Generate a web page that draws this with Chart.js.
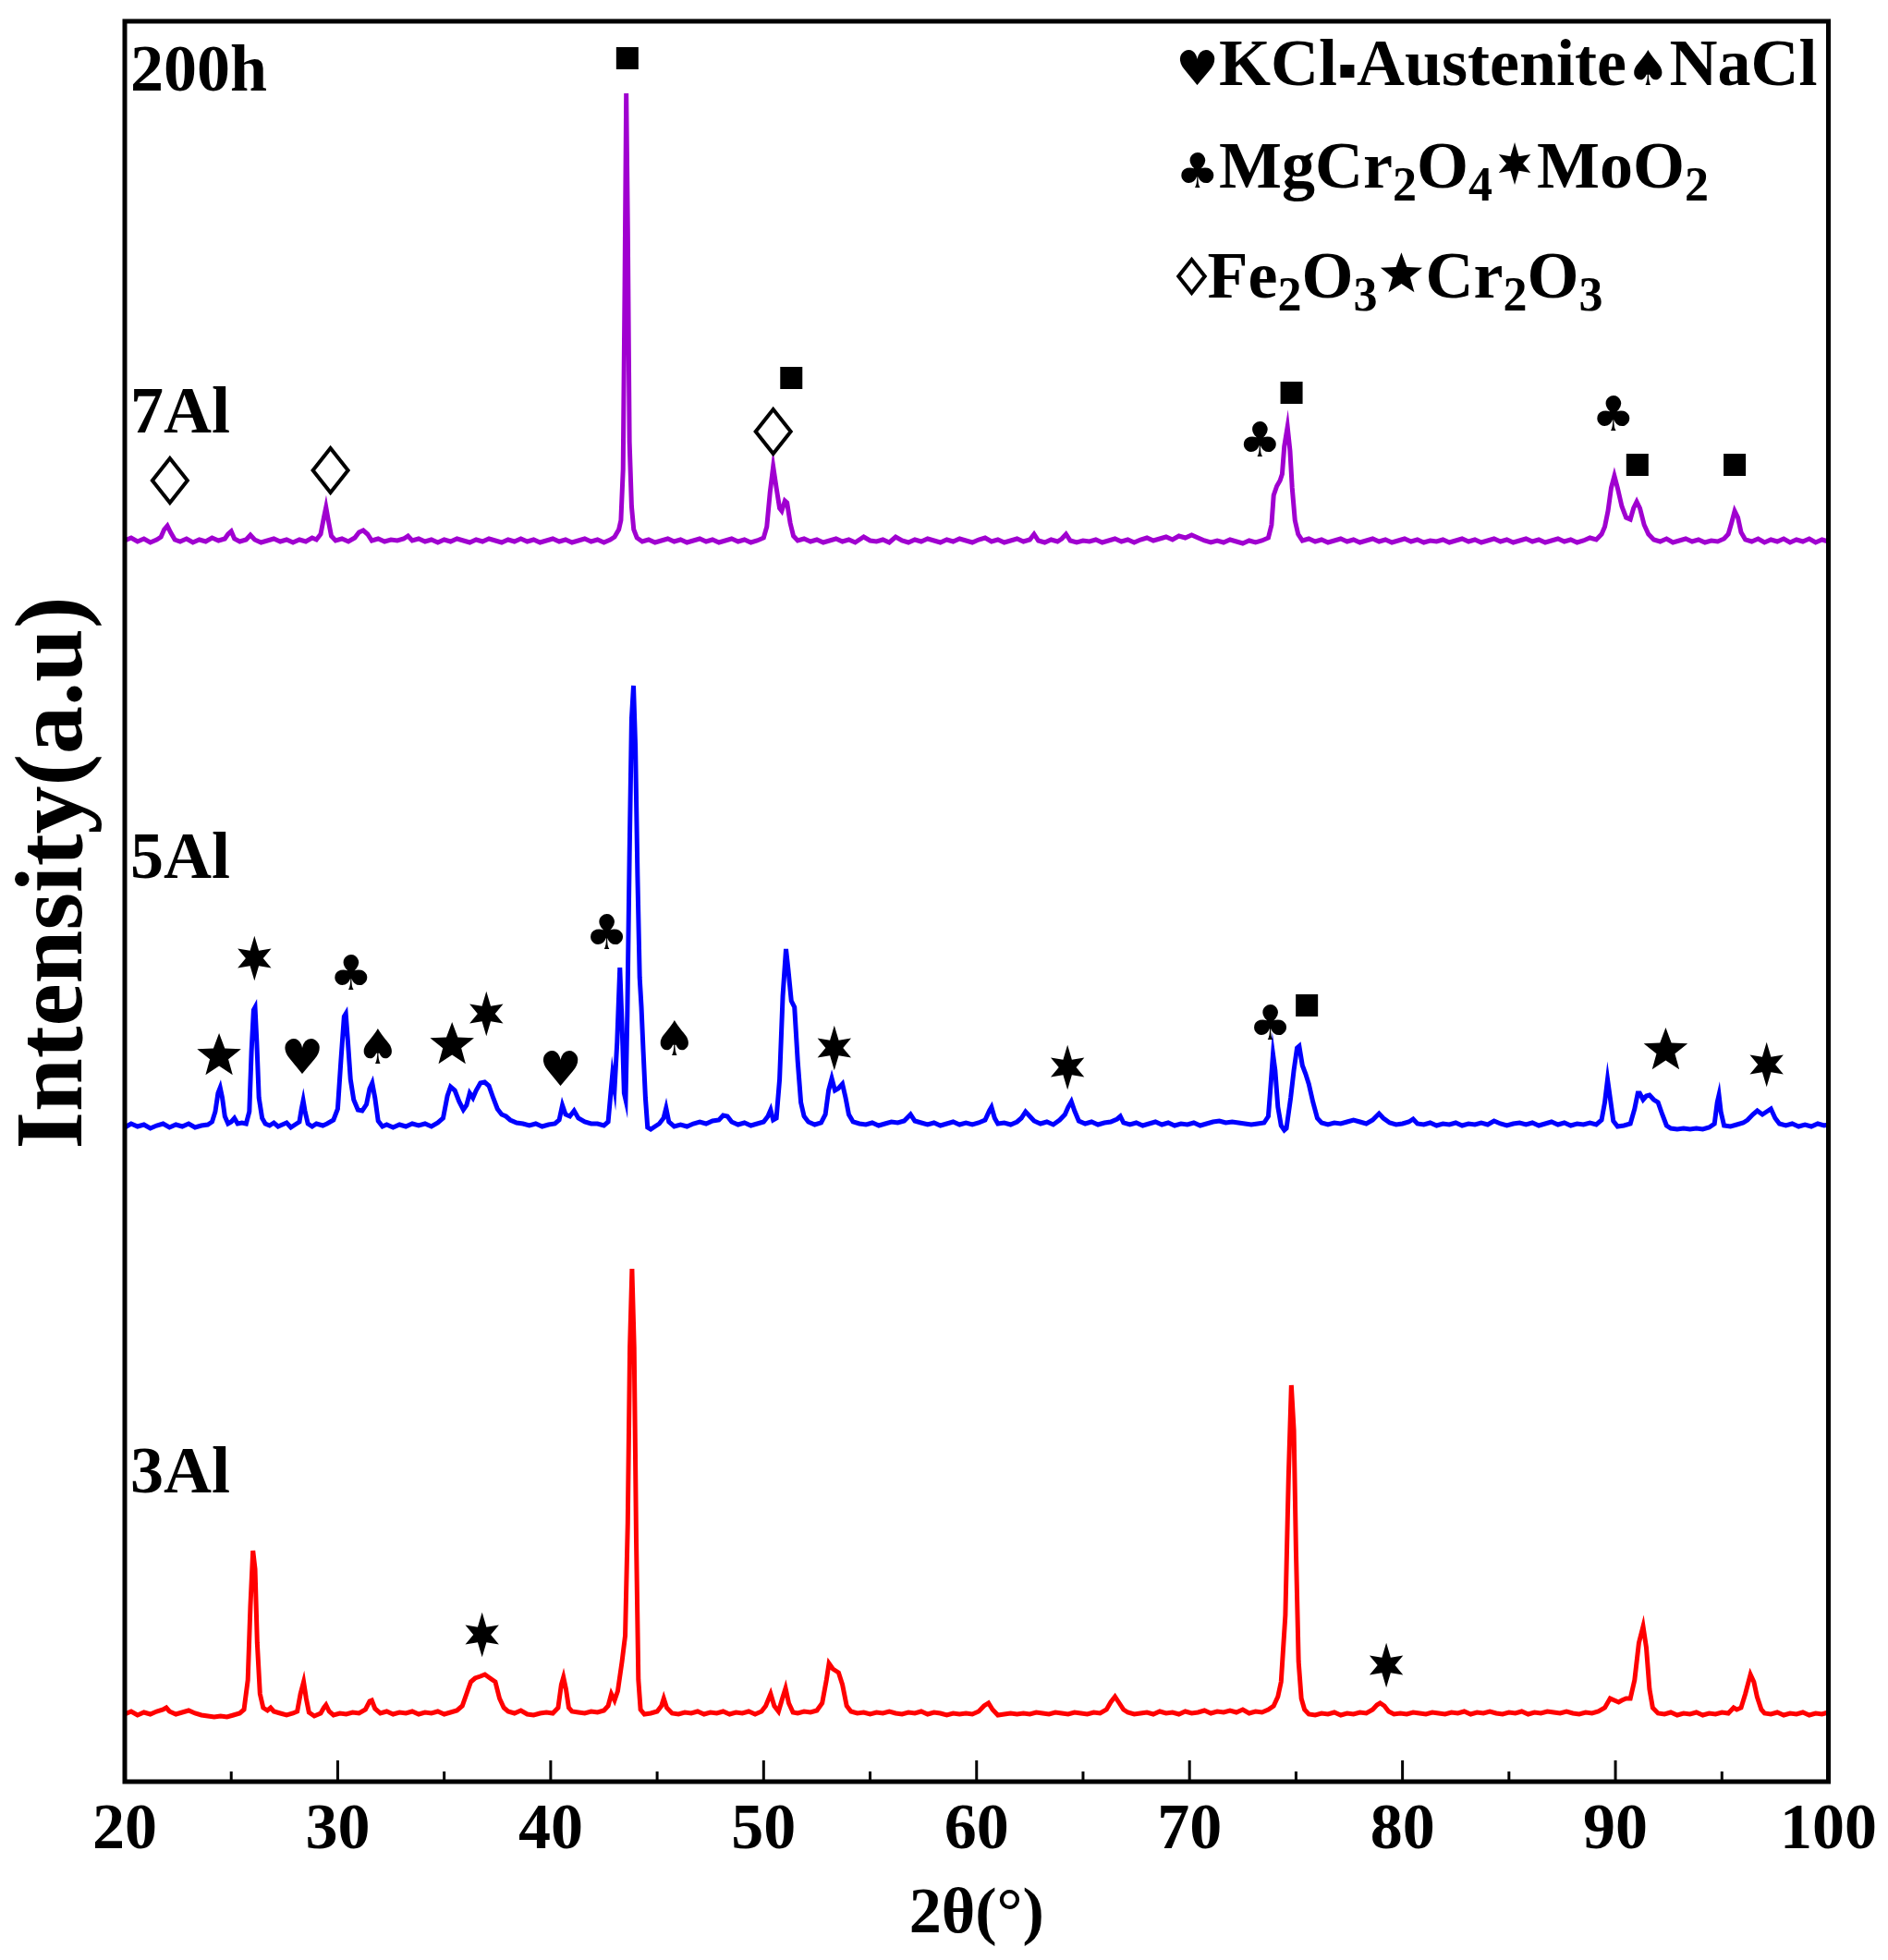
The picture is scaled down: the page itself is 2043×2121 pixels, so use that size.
<!DOCTYPE html>
<html>
<head>
<meta charset="utf-8">
<title>XRD patterns, 200h</title>
<script src="https://cdn.jsdelivr.net/npm/chart.js@4.4.1/dist/chart.umd.min.js"></script>
<style>
  html, body { margin: 0; padding: 0; background: #fff; }
  canvas { display: block; }
</style>
</head>
<body>
<canvas id="xrd" width="2043" height="2121"></canvas>
<script>
/* XRD patterns of the 3Al / 5Al / 7Al samples after 200h.
   The three scans are stacked with a vertical offset, values are read off
   the figure (intensity in arbitrary units, 0 at the bottom of the frame). */

// ---- data: [2θ, intensity] -------------------------------------------------
const scan7Al = [
  [20.0,1343],[20.3,1346],[20.6,1342],[20.9,1345],[21.2,1341],[21.5,1344],[21.7,1347],[21.85,1355],[22.0,1359],[22.15,1352],
  [22.35,1344],[22.6,1342],[22.9,1345],[23.2,1341],[23.5,1344],[23.8,1342],[24.1,1346],[24.4,1343],[24.7,1345],[24.85,1350],
  [25.0,1353],[25.15,1345],[25.4,1342],[25.7,1344],[25.9,1349],[26.1,1344],[26.4,1341],[26.7,1343],[27.0,1345],[27.3,1342],
  [27.6,1344],[27.9,1341],[28.2,1344],[28.5,1342],[28.8,1346],[29.0,1344],[29.2,1350],[29.35,1368],[29.45,1379],[29.55,1366],
  [29.7,1348],[29.9,1343],[30.2,1345],[30.5,1342],[30.8,1346],[31.0,1352],[31.2,1354],[31.4,1350],[31.6,1343],[31.9,1345],
  [32.2,1342],[32.5,1344],[32.8,1343],[33.1,1345],[33.3,1348],[33.5,1343],[33.8,1345],[34.1,1342],[34.4,1344],[34.7,1341],
  [35.0,1344],[35.3,1342],[35.6,1345],[35.9,1343],[36.2,1341],[36.5,1344],[36.8,1342],[37.1,1345],[37.4,1343],[37.7,1341],
  [38.0,1344],[38.3,1342],[38.6,1345],[38.9,1342],[39.2,1344],[39.5,1341],[39.8,1343],[40.1,1345],[40.4,1342],[40.7,1344],
  [41.0,1341],[41.3,1343],[41.6,1345],[41.9,1342],[42.2,1344],[42.5,1341],[42.8,1344],[43.0,1347],[43.2,1355],[43.3,1365],
  [43.4,1420],[43.48,1620],[43.55,1827],[43.62,1680],[43.7,1450],[43.8,1380],[43.9,1355],[44.05,1346],[44.3,1342],[44.6,1344],
  [44.9,1341],[45.2,1343],[45.5,1345],[45.8,1342],[46.1,1344],[46.4,1341],[46.7,1343],[47.0,1345],[47.3,1342],[47.6,1344],
  [47.9,1341],[48.2,1343],[48.5,1345],[48.8,1342],[49.1,1344],[49.4,1341],[49.7,1343],[50.0,1346],[50.15,1358],[50.3,1395],
  [50.45,1423],[50.6,1400],[50.75,1378],[50.85,1375],[51.0,1386],[51.1,1384],[51.25,1362],[51.4,1348],[51.6,1343],[51.9,1345],
  [52.2,1342],[52.5,1344],[52.8,1341],[53.1,1343],[53.4,1345],[53.7,1342],[54.0,1344],[54.3,1341],[54.7,1347],[55.0,1343],
  [55.3,1342],[55.6,1344],[55.9,1341],[56.2,1347],[56.5,1343],[56.8,1341],[57.1,1344],[57.4,1342],[57.7,1345],[58.0,1343],
  [58.3,1341],[58.6,1344],[58.9,1342],[59.2,1345],[59.5,1343],[59.8,1341],[60.1,1344],[60.4,1346],[60.7,1342],[61.0,1344],
  [61.3,1341],[61.6,1343],[61.9,1345],[62.2,1342],[62.5,1344],[62.7,1350],[62.9,1343],[63.2,1341],[63.5,1344],[63.8,1342],
  [64.0,1345],[64.2,1350],[64.4,1343],[64.7,1341],[65.0,1343],[65.3,1342],[65.6,1344],[65.9,1341],[66.2,1343],[66.5,1345],
  [66.8,1342],[67.1,1344],[67.4,1341],[67.7,1344],[68.0,1346],[68.3,1343],[68.6,1345],[68.9,1347],[69.2,1344],[69.5,1348],
  [69.8,1346],[70.1,1349],[70.4,1346],[70.7,1343],[71.0,1341],[71.3,1343],[71.6,1341],[71.9,1344],[72.2,1342],[72.5,1340],
  [72.8,1343],[73.1,1341],[73.4,1343],[73.7,1346],[73.85,1360],[73.95,1392],[74.1,1402],[74.25,1408],[74.35,1415],[74.45,1445],
  [74.6,1466],[74.72,1440],[74.82,1400],[74.95,1365],[75.1,1350],[75.3,1343],[75.6,1345],[75.9,1342],[76.2,1344],[76.5,1341],
  [76.8,1343],[77.1,1345],[77.4,1342],[77.7,1344],[78.0,1341],[78.3,1343],[78.6,1345],[78.9,1342],[79.2,1344],[79.5,1341],
  [79.8,1343],[80.1,1345],[80.4,1342],[80.7,1344],[81.0,1341],[81.3,1343],[81.6,1342],[81.9,1344],[82.2,1341],[82.5,1343],
  [82.8,1345],[83.1,1342],[83.4,1344],[83.7,1341],[84.0,1343],[84.3,1345],[84.6,1342],[84.9,1344],[85.2,1341],[85.5,1343],
  [85.8,1345],[86.1,1342],[86.4,1344],[86.7,1341],[87.0,1343],[87.3,1345],[87.6,1342],[87.9,1344],[88.2,1341],[88.5,1343],
  [88.8,1346],[89.1,1344],[89.35,1350],[89.5,1358],[89.65,1375],[89.8,1400],[89.95,1413],[90.1,1400],[90.3,1380],[90.5,1368],
  [90.7,1366],[90.85,1378],[91.0,1385],[91.15,1378],[91.35,1360],[91.55,1350],[91.8,1344],[92.1,1342],[92.4,1345],[92.7,1341],
  [93.0,1343],[93.3,1345],[93.6,1342],[93.9,1344],[94.2,1341],[94.5,1343],[94.8,1342],[95.1,1345],[95.3,1350],[95.45,1362],
  [95.6,1375],[95.75,1368],[95.9,1352],[96.1,1344],[96.4,1342],[96.7,1345],[97.0,1341],[97.3,1344],[97.6,1342],[97.9,1345],
  [98.2,1341],[98.5,1344],[98.8,1342],[99.1,1345],[99.4,1341],[99.7,1344],[100.0,1342]
];

const scan5Al = [
  [20.0,708],[20.3,712],[20.6,709],[20.9,711],[21.2,707],[21.5,710],[21.8,712],[22.1,708],[22.4,711],[22.7,709],
  [23.0,712],[23.3,708],[23.6,710],[23.9,711],[24.1,714],[24.25,725],[24.38,745],[24.48,751],[24.58,740],[24.7,720],
  [24.85,712],[25.0,714],[25.15,718],[25.3,712],[25.5,713],[25.7,712],[25.85,725],[25.95,790],[26.05,835],[26.12,838],
  [26.2,800],[26.3,740],[26.45,718],[26.6,712],[26.8,710],[27.0,713],[27.2,709],[27.4,711],[27.6,713],[27.8,708],
  [28.0,711],[28.2,714],[28.3,728],[28.38,737],[28.46,726],[28.6,712],[28.8,709],[29.0,712],[29.3,710],[29.5,712],
  [29.8,716],[30.0,728],[30.15,780],[30.3,828],[30.38,831],[30.48,800],[30.6,760],[30.75,738],[30.95,727],[31.15,726],
  [31.35,733],[31.5,750],[31.62,756],[31.75,740],[31.9,715],[32.1,709],[32.3,711],[32.6,708],[32.9,711],[33.2,709],
  [33.5,712],[33.8,710],[34.1,712],[34.4,709],[34.7,713],[34.95,718],[35.15,742],[35.3,752],[35.5,748],[35.7,736],
  [35.9,727],[36.05,732],[36.2,745],[36.35,740],[36.5,748],[36.7,756],[36.9,757],[37.1,753],[37.3,740],[37.5,728],
  [37.7,722],[37.9,720],[38.1,716],[38.4,713],[38.7,712],[39.0,710],[39.3,712],[39.6,709],[39.9,711],[40.2,712],
  [40.4,716],[40.55,732],[40.7,722],[40.9,720],[41.1,726],[41.3,718],[41.6,714],[41.9,712],[42.2,712],[42.5,710],
  [42.7,714],[42.82,745],[42.9,765],[43.0,750],[43.12,800],[43.25,881],[43.35,820],[43.45,745],[43.52,738],[43.6,830],
  [43.7,1000],[43.8,1150],[43.89,1186],[43.98,1120],[44.08,980],[44.18,870],[44.26,838],[44.35,790],[44.45,740],[44.55,708],
  [44.7,706],[44.9,709],[45.1,712],[45.3,718],[45.42,729],[45.55,714],[45.8,709],[46.1,711],[46.4,709],[46.7,712],
  [47.0,714],[47.3,712],[47.6,715],[47.9,716],[48.1,721],[48.3,720],[48.5,714],[48.8,711],[49.1,713],[49.4,710],
  [49.7,712],[50.0,714],[50.2,720],[50.33,727],[50.45,716],[50.6,718],[50.75,760],[50.9,850],[51.05,901],[51.15,880],
  [51.3,845],[51.45,838],[51.6,780],[51.75,735],[51.9,720],[52.1,714],[52.4,711],[52.7,713],[52.9,722],[53.05,748],
  [53.2,761],[53.35,748],[53.5,750],[53.7,755],[53.85,740],[54.0,722],[54.2,714],[54.5,712],[54.8,711],[55.1,713],
  [55.4,710],[55.7,712],[56.0,714],[56.3,713],[56.6,715],[56.9,722],[57.1,715],[57.4,713],[57.7,711],[58.0,713],
  [58.3,710],[58.6,712],[58.9,714],[59.2,711],[59.5,713],[59.8,711],[60.1,713],[60.4,716],[60.6,726],[60.7,730],
  [60.85,718],[61.0,712],[61.3,713],[61.6,711],[61.9,714],[62.1,718],[62.3,725],[62.5,720],[62.7,715],[63.0,712],
  [63.3,714],[63.6,711],[63.9,716],[64.15,722],[64.3,730],[64.45,736],[64.6,726],[64.8,715],[65.1,712],[65.4,714],
  [65.7,711],[66.0,713],[66.3,714],[66.6,717],[66.75,720],[66.9,713],[67.2,711],[67.5,713],[67.8,710],[68.1,712],
  [68.4,714],[68.7,711],[69.0,713],[69.3,710],[69.6,712],[69.9,711],[70.2,713],[70.5,710],[70.8,712],[71.1,714],
  [71.4,715],[71.7,713],[72.0,714],[72.3,713],[72.6,712],[72.9,711],[73.2,712],[73.5,713],[73.7,720],[73.8,750],
  [73.92,787],[74.02,770],[74.15,730],[74.3,710],[74.45,705],[74.55,707],[74.75,740],[74.9,770],[75.05,794],[75.15,796],
  [75.3,775],[75.45,766],[75.6,755],[75.8,735],[76.0,718],[76.2,713],[76.5,711],[76.8,713],[77.1,712],[77.4,714],
  [77.7,716],[78.0,714],[78.3,712],[78.6,716],[78.9,723],[79.1,718],[79.4,713],[79.7,711],[80.0,712],[80.3,714],
  [80.5,717],[80.7,712],[81.0,711],[81.3,713],[81.6,710],[81.9,712],[82.2,711],[82.5,713],[82.8,710],[83.1,712],
  [83.4,711],[83.7,713],[84.0,711],[84.3,715],[84.6,712],[84.9,710],[85.2,712],[85.5,713],[85.8,711],[86.1,713],
  [86.4,710],[86.7,712],[87.0,714],[87.3,711],[87.6,713],[87.9,710],[88.2,712],[88.5,711],[88.8,713],[89.1,711],
  [89.35,716],[89.5,735],[89.63,760],[89.75,740],[89.9,715],[90.1,709],[90.4,710],[90.7,712],[90.9,728],[91.05,745],
  [91.14,745],[91.3,738],[91.45,742],[91.6,743],[91.8,738],[92.0,735],[92.2,722],[92.4,710],[92.6,707],[92.9,706],
  [93.2,707],[93.5,706],[93.8,707],[94.1,706],[94.4,708],[94.65,712],[94.78,735],[94.86,743],[94.95,725],[95.1,710],
  [95.4,709],[95.7,711],[96.0,713],[96.2,716],[96.45,722],[96.66,726],[96.9,722],[97.1,725],[97.3,728],[97.5,718],
  [97.7,712],[98.0,710],[98.3,712],[98.6,709],[98.9,711],[99.2,709],[99.5,712],[99.8,710],[100.0,711]
];

const scan3Al = [
  [20.0,73],[20.3,76],[20.6,72],[20.9,75],[21.2,73],[21.5,76],[21.8,78],[21.95,80],[22.1,76],[22.4,73],
  [22.7,75],[23.0,77],[23.3,74],[23.6,72],[23.9,71],[24.2,70],[24.5,71],[24.8,70],[25.1,72],[25.4,74],
  [25.6,78],[25.78,110],[25.9,190],[26.02,250],[26.12,230],[26.22,150],[26.35,95],[26.5,80],[26.7,77],[26.85,80],
  [27.0,76],[27.3,74],[27.6,72],[27.9,74],[28.1,76],[28.25,95],[28.4,108],[28.52,90],[28.65,75],[28.9,71],
  [29.2,74],[29.35,80],[29.45,83],[29.6,76],[29.8,72],[30.1,74],[30.4,73],[30.7,75],[31.0,74],[31.3,78],
  [31.5,87],[31.6,88],[31.75,79],[32.0,74],[32.3,76],[32.6,73],[32.9,75],[33.2,74],[33.5,76],[33.8,73],
  [34.1,75],[34.4,74],[34.7,76],[35.0,73],[35.3,75],[35.6,77],[35.85,82],[36.05,95],[36.25,108],[36.45,112],
  [36.7,114],[36.91,116],[37.15,112],[37.4,108],[37.6,90],[37.8,80],[38.0,76],[38.3,74],[38.6,77],[38.9,73],
  [39.2,72],[39.5,74],[39.8,75],[40.1,74],[40.35,80],[40.5,105],[40.6,113],[40.72,100],[40.85,80],[41.0,76],
  [41.3,75],[41.6,74],[41.9,76],[42.2,75],[42.5,77],[42.7,82],[42.85,95],[43.0,88],[43.15,98],[43.35,130],
  [43.5,158],[43.62,280],[43.72,470],[43.82,555],[43.92,470],[44.02,260],[44.12,110],[44.22,78],[44.4,73],[44.7,74],
  [45.0,76],[45.2,82],[45.31,90],[45.45,80],[45.7,74],[46.0,73],[46.3,75],[46.6,74],[46.9,76],[47.2,73],
  [47.5,75],[47.8,74],[48.1,76],[48.4,73],[48.7,75],[49.0,74],[49.3,76],[49.6,73],[49.9,76],[50.1,82],
  [50.33,95],[50.5,82],[50.7,76],[50.88,90],[51.03,101],[51.18,85],[51.38,75],[51.6,74],[51.9,76],[52.2,75],
  [52.5,77],[52.75,85],[52.95,110],[53.07,128],[53.25,122],[53.52,118],[53.7,105],[53.9,82],[54.1,76],[54.4,74],
  [54.7,75],[55.0,73],[55.3,75],[55.6,74],[55.9,76],[56.2,74],[56.5,73],[56.8,75],[57.1,74],[57.4,76],
  [57.7,73],[58.0,75],[58.3,74],[58.6,72],[58.9,74],[59.2,73],[59.5,74],[59.8,73],[60.1,76],[60.35,82],
  [60.56,85],[60.75,78],[61.0,72],[61.3,73],[61.6,74],[61.9,73],[62.2,74],[62.5,73],[62.8,75],[63.1,74],
  [63.4,73],[63.7,75],[64.0,74],[64.3,73],[64.6,75],[64.9,74],[65.2,73],[65.5,75],[65.8,74],[66.1,78],
  [66.3,86],[66.5,92],[66.7,85],[66.9,78],[67.1,75],[67.4,73],[67.7,74],[68.0,75],[68.3,73],[68.6,76],
  [68.9,74],[69.2,75],[69.5,73],[69.8,76],[70.1,74],[70.4,75],[70.7,77],[71.0,74],[71.3,76],[71.6,75],
  [71.9,77],[72.2,75],[72.5,78],[72.8,74],[73.1,76],[73.4,75],[73.7,78],[73.95,82],[74.15,92],[74.3,108],
  [74.5,180],[74.65,330],[74.78,429],[74.9,380],[75.0,250],[75.12,130],[75.25,90],[75.4,78],[75.6,73],[75.9,72],
  [76.2,74],[76.5,73],[76.8,75],[77.1,72],[77.4,74],[77.7,73],[78.0,75],[78.3,74],[78.6,78],[78.8,83],
  [78.95,85],[79.15,82],[79.35,76],[79.6,73],[79.9,74],[80.2,73],[80.5,75],[80.8,74],[81.1,73],[81.4,75],
  [81.7,74],[82.0,73],[82.3,75],[82.6,74],[82.9,76],[83.2,73],[83.5,75],[83.8,74],[84.1,76],[84.4,74],
  [84.7,73],[85.0,75],[85.3,74],[85.6,76],[85.9,73],[86.2,75],[86.5,74],[86.8,76],[87.1,75],[87.4,74],
  [87.7,76],[88.0,74],[88.3,73],[88.6,75],[88.9,74],[89.2,76],[89.5,80],[89.75,90],[89.95,88],[90.15,86],
  [90.3,88],[90.5,90],[90.7,90],[90.9,110],[91.1,150],[91.3,168],[91.45,145],[91.6,100],[91.75,80],[92.0,74],
  [92.3,73],[92.6,75],[92.9,72],[93.2,74],[93.5,73],[93.8,75],[94.1,72],[94.4,74],[94.7,73],[95.0,75],
  [95.3,74],[95.55,80],[95.7,78],[95.9,80],[96.1,95],[96.34,116],[96.5,108],[96.65,92],[96.85,78],[97.0,74],
  [97.3,73],[97.6,75],[97.9,72],[98.2,74],[98.5,73],[98.8,75],[99.1,72],[99.4,74],[99.7,73],[100.0,75]
];

// phase markers: [symbol, 2θ, height]
const marks7Al = [
  ['◇',22.12,1408],['◇',29.66,1419],['■',43.6,1865],['◇',50.45,1461],['■',51.3,1519],
  ['♣',73.3,1448],['■',74.79,1503],['♣',89.9,1476],['■',91.03,1425],['■',95.6,1425]
];
const marks5Al = [
  ['★',24.43,787],['✶',26.09,891],['♥',28.33,780],['♣',30.62,871],['♠',31.88,791],
  ['★',35.37,799],['✶',36.98,831],['♥',40.46,767],['♣',42.63,915],['♠',45.81,800],
  ['✶',53.32,794],['✶',64.27,773],['♣',73.79,817],['■',75.51,840],['★',92.36,793],['✶',97.1,776]
];
const marks3Al = [['✶',36.78,159],['✶',79.24,126]];

// sample names, anchored at [2θ, baseline height]
const sampleLabels = [['200h',20.26,1830],['7Al',20.26,1460],['5Al',20.26,978],['3Al',20.26,313]];

// phase key, one row per line; 'sym' = marker, 'sub' = subscript
const keyRows = [
  [['♥','sym'],['KCl','txt'],['▪','sym'],['Austenite','txt'],['♠','sym'],['NaCl','txt']],
  [['♣','sym'],['MgCr','txt'],['2','sub'],['O','txt'],['4','sub'],['✶','sym'],['MoO','txt'],['2','sub']],
  [['◇','sym'],['Fe','txt'],['2','sub'],['O','txt'],['3','sub'],['★','sym'],['Cr','txt'],['2','sub'],['O','txt'],['3','sub']]
];

const xTicksMin = 20, xTicksMax = 100, xTickStep = 10;
const yTitle = 'Intensity(a.u)';

// ---- fonts ----------------------------------------------------------------
const SERIF = '"Liberation Serif", "Times New Roman", serif';
const FONT_TXT = 'bold 72px ' + SERIF;
const FONT_SUB = 'bold 52px ' + SERIF;
const FONT_SYM = '52px "DejaVu Sans"';
const FONT_YTITLE = 'bold 104px ' + SERIF;

const toXY = (arr) => arr.map(([x, y]) => ({ x, y }));

// star polygon; the vertical points of the 6-point star are a bit longer
function star(ctx, cx, cy, n, R, inner, stretch) {
  ctx.beginPath();
  for (let i = 0; i < 2 * n; i++) {
    const ang = -Math.PI / 2 + (i * Math.PI) / n;
    let rad = i % 2 ? R * inner : R;
    if (!(i % 2) && Math.abs(Math.cos(ang)) < 0.01) rad *= stretch;
    ctx.lineTo(cx + rad * Math.cos(ang), cy + rad * Math.sin(ang));
  }
  ctx.closePath();
  ctx.fill();
}

// draws one marker centred at (px, py); k scales the drawn shapes
function drawMark(ctx, s, px, py, k) {
  switch (s) {
    case '■': ctx.fillRect(px - 12 * k, py - 12 * k, 24 * k, 24 * k); return;
    case '▪': ctx.fillRect(px - 7, py - 7, 15, 14); return;
    case '◇': {
      const hw = 19 * k, hh = 24 * k;
      ctx.lineWidth = 4;
      ctx.beginPath();
      ctx.moveTo(px, py - hh); ctx.lineTo(px + hw, py); ctx.lineTo(px, py + hh); ctx.lineTo(px - hw, py);
      ctx.closePath(); ctx.stroke();
      return;
    }
    case '✶': star(ctx, px, py, 6, 21 * k, 0.45, 1.15); return;
    case '★': star(ctx, px, py + 2, 5, 25 * k, 0.42, 1); return;
    default:
      ctx.font = FONT_SYM;
      ctx.textAlign = 'center';
      ctx.textBaseline = 'middle';
      ctx.fillText(s, px, py);
  }
}

// width and height above the baseline of the drawn key markers
const keyMarkBox = { '▪': [21, 15], '◇': [34, 23], '✶': [48, 26], '★': [52, 27] };

// ---- overlay: frame, inward ticks, labels, markers, phase key -------------
const overlay = {
  id: 'xrdOverlay',
  afterDraw(chart) {
    const { ctx, chartArea: a, scales: { x, y } } = chart;
    ctx.save();
    ctx.fillStyle = '#000';
    ctx.strokeStyle = '#000';

    // frame
    ctx.lineWidth = 5;
    ctx.strokeRect(a.left, a.top, a.right - a.left, a.bottom - a.top);

    // inward ticks on the bottom axis, minor ones half way between majors
    ctx.lineWidth = 3;
    const majors = x.ticks.map((t) => t.value);
    majors.forEach((v, i) => {
      const px = x.getPixelForValue(v);
      ctx.beginPath(); ctx.moveTo(px, a.bottom); ctx.lineTo(px, a.bottom - 23); ctx.stroke();
      if (i < majors.length - 1) {
        const pm = x.getPixelForValue((v + majors[i + 1]) / 2);
        ctx.beginPath(); ctx.moveTo(pm, a.bottom); ctx.lineTo(pm, a.bottom - 11); ctx.stroke();
      }
    });

    // y axis title, sits a little above the middle of the frame
    ctx.save();
    ctx.translate(y.left + 61, (a.top + a.bottom) / 2 - 31);
    ctx.rotate(-Math.PI / 2);
    ctx.font = FONT_YTITLE;
    ctx.textAlign = 'center';
    ctx.textBaseline = 'middle';
    ctx.fillText(yTitle, 0, 0);
    ctx.restore();

    // sample labels
    ctx.font = FONT_TXT;
    ctx.textAlign = 'left';
    ctx.textBaseline = 'alphabetic';
    sampleLabels.forEach(([t, tx, ty]) => ctx.fillText(t, x.getPixelForValue(tx), y.getPixelForValue(ty)));

    // phase markers above the peaks
    [...marks7Al, ...marks5Al, ...marks3Al].forEach(([s, mx, my]) => {
      drawMark(ctx, s, x.getPixelForValue(mx), y.getPixelForValue(my), 1);
    });

    // phase key (top right)
    const segFont = (k) => (k === 'sym' ? FONT_SYM : k === 'sub' ? FONT_SUB : FONT_TXT);
    const segWidth = ([t, k]) => {
      if (k === 'sym' && keyMarkBox[t]) return keyMarkBox[t][0];
      ctx.font = segFont(k);
      return ctx.measureText(t).width;
    };
    const drawRow = (row, x0, base) => {
      let cx = x0;
      row.forEach((seg) => {
        const [t, k] = seg;
        const w = segWidth(seg);
        if (k === 'sym' && keyMarkBox[t]) {
          drawMark(ctx, t, cx + w / 2, base - keyMarkBox[t][1], t === '◇' ? 0.75 : 0.95);
        } else {
          ctx.font = segFont(k);
          ctx.textAlign = 'left';
          ctx.textBaseline = 'alphabetic';
          ctx.fillText(t, cx, base + (k === 'sub' ? 14 : 0));
        }
        cx += w;
      });
    };
    const row0Width = keyRows[0].reduce((w, seg) => w + segWidth(seg), 0);
    drawRow(keyRows[0], a.right - 12 - row0Width, a.top + 69);
    drawRow(keyRows[1], a.right - 706, a.top + 180);
    drawRow(keyRows[2], a.right - 706, a.top + 299);

    ctx.restore();
  }
};

// ---- chart ----------------------------------------------------------------
const lineStyle = (color) => ({ borderColor: color, backgroundColor: color, borderWidth: 5,
  pointRadius: 0, showLine: true, tension: 0, fill: false });

new Chart(document.getElementById('xrd'), {
  type: 'scatter',
  data: {
    datasets: [
      { label: '3Al', data: toXY(scan3Al), ...lineStyle('#ff0000') },
      { label: '5Al', data: toXY(scan5Al), ...lineStyle('#0000ff') },
      { label: '7Al', data: toXY(scan7Al), ...lineStyle('#a000d0') }
    ]
  },
  options: {
    responsive: false,
    animation: false,
    devicePixelRatio: 1,
    layout: { padding: { top: 23, right: 61, left: 0, bottom: 0 } },
    plugins: { legend: { display: false }, tooltip: { enabled: false } },
    scales: {
      x: {
        type: 'linear',
        min: xTicksMin,
        max: xTicksMax,
        grid: { display: false, drawTicks: false },
        border: { display: false },
        ticks: { stepSize: xTickStep, color: '#000', padding: 12,
          font: { family: SERIF, size: 70, weight: 'bold' } },
        title: { display: true, text: '2θ(°)', color: '#000', padding: { top: 0, bottom: 6 },
          font: { family: SERIF, size: 70, weight: 'bold' } },
        afterFit: (s) => { s.height = 193; }
      },
      y: {
        min: 0,
        max: 1905,
        grid: { display: false, drawTicks: false },
        border: { display: false },
        ticks: { display: false },
        title: { display: false },
        afterFit: (s) => { s.width = 135; }
      }
    }
  },
  plugins: [overlay]
});
</script>
</body>
</html>
